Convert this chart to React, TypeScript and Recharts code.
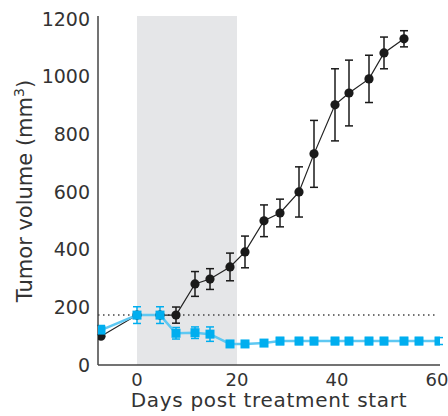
import React from 'react';
import {
  ComposedChart,
  Line,
  XAxis,
  YAxis,
  ErrorBar,
  ReferenceArea,
  ReferenceLine,
} from 'recharts';

// Control (black circles)
const controlDays = [-7.2, 0, 4.6, 7.8, 11.6, 14.6, 18.6, 21.6, 25.4, 28.6, 32.4, 35.4, 39.6, 42.4, 46.4, 49.4, 53.4];
const controlVolume = [100, 173, 173, 173, 281, 298, 340, 392, 500, 527, 600, 732, 902, 943, 992, 1082, 1131];
const controlError = [0, 0, 0, 28, 43, 36, 48, 55, 55, 48, 87, 116, 125, 114, 82, 55, 28];

// Treated (blue squares)
const treatedDays = [-7.2, 0, 4.6, 7.8, 11.6, 14.6, 18.6, 21.6, 25.4, 28.6, 32.4, 35.4, 39.6, 42.4, 46.4, 49.4, 53.4, 56.4, 60.4];
const treatedVolume = [121, 173, 173, 110, 112, 107, 73, 73, 76, 83, 83, 83, 83, 83, 83, 83, 83, 83, 83];
const treatedError = [16, 29, 29, 20, 20, 25, 10, 10, 10, 12, 12, 12, 12, 12, 12, 12, 12, 12, 12];

const xTicks = [0, 20, 40, 60];
const yTicks = [0, 200, 400, 600, 800, 1000, 1200];
const treatmentWindow = [0, 20];
const threshold = 173;

const controlData = controlDays.map((d, i) => ({ day: d, v: controlVolume[i], e: controlError[i] }));
const treatedData = treatedDays.map((d, i) => ({ day: d, v: treatedVolume[i], e: treatedError[i] }));

const FONT = '"DejaVu Sans", sans-serif';
const BLUE = '#00aeef';

const Square = (props: any) => {
  const { cx, cy, index } = props;
  if (cx == null || cy == null) return <g key={`s-${index}`} />;
  return <rect key={`s-${index}`} x={cx - 4.5} y={cy - 4.5} width={9} height={9} fill={BLUE} />;
};

const Circle = (props: any) => {
  const { cx, cy, index } = props;
  if (cx == null || cy == null) return <g key={`c-${index}`} />;
  return <circle key={`c-${index}`} cx={cx} cy={cy} r={4.6} fill="#1a1a1a" />;
};

const YTitle = () => (
  <text
    x={32}
    y={191}
    transform="rotate(-90, 32, 191)"
    textAnchor="middle"
    fontFamily={FONT}
    fontSize={21}
    fill="#333"
  >
    Tumor volume (mm
    <tspan dy={-8} fontSize={14}>3</tspan>
    <tspan dy={8}>)</tspan>
  </text>
);

const XTitle = () => (
  <text
    x={269}
    y={407}
    textAnchor="middle"
    fontFamily={FONT}
    fontSize={20}
    letterSpacing={0.7}
    fill="#333"
  >
    Days post treatment start
  </text>
);

export default function App() {
  return (
    <div style={{ position: 'absolute', left: 0, top: 0 }}>
      <ComposedChart
        width={448}
        height={416}
        margin={{ top: 16, right: 8, bottom: 21, left: 0 }}
      >
        <XAxis
          dataKey="day"
          type="number"
          domain={[-7.8, 60.6]}
          ticks={xTicks}
          allowDataOverflow
          tickLine={false}
          height={30}
          axisLine={{ stroke: '#444', strokeWidth: 1.5 }}
          tick={{ fontFamily: FONT, fontSize: 18, fill: '#333' }}
          label={{ content: () => <XTitle /> }}
        />
        <YAxis
          type="number"
          domain={[0, 1210]}
          ticks={yTicks}
          allowDataOverflow
          tickLine={false}
          width={98}
          axisLine={{ stroke: '#444', strokeWidth: 1.5 }}
          tick={{ fontFamily: FONT, fontSize: 19, fill: '#333' }}
          label={{ content: () => <YTitle /> }}
        />
        <ReferenceArea
          x1={treatmentWindow[0]}
          x2={treatmentWindow[1]}
          fill="#e5e6e8"
          fillOpacity={1}
          stroke="none"
        />
        <ReferenceLine
          segment={[{ x: -7.8, y: threshold }, { x: 60, y: threshold }]}
          stroke="#444"
          strokeWidth={1.5}
          strokeDasharray="1.5 3.5"
        />
        <Line
          data={controlData}
          dataKey="v"
          stroke="#222"
          strokeWidth={1.2}
          dot={Circle}
          activeDot={false}
          isAnimationActive={false}
        >
          <ErrorBar dataKey="e" width={4} stroke="#1a1a1a" strokeWidth={1.5} direction="y" />
        </Line>
        <Line
          data={treatedData}
          dataKey="v"
          stroke="#5ec8f2"
          strokeWidth={2.5}
          dot={Square}
          activeDot={false}
          isAnimationActive={false}
        >
          <ErrorBar dataKey="e" width={4} stroke={BLUE} strokeWidth={1.5} direction="y" />
        </Line>
      </ComposedChart>
    </div>
  );
}
